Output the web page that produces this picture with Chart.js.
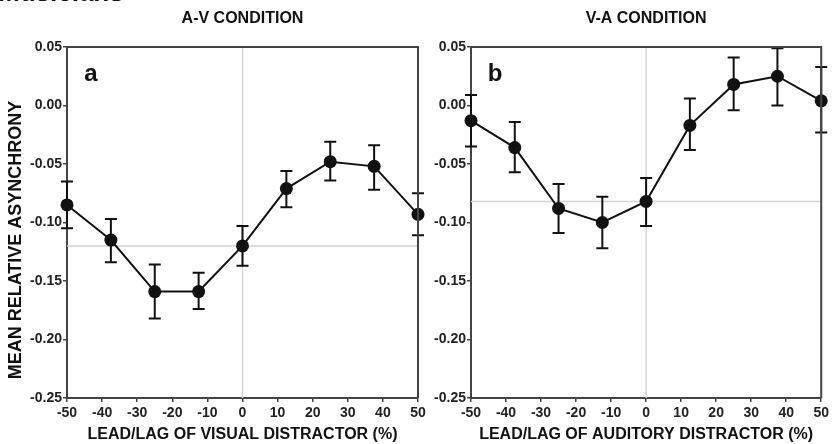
<!DOCTYPE html>
<html>
<head>
<meta charset="utf-8">
<script src="https://cdn.jsdelivr.net/npm/chart.js@4.4.1/dist/chart.umd.min.js"></script>
<style>
  body { margin: 0; background: #fff; }
  #wrap { position: relative; width: 832px; height: 444px; overflow: hidden; }
  canvas { position: absolute; top: 0; }
  #topText { position: absolute; left: -2px; top: -23px; font: bold 26px 'Liberation Sans', Arial, sans-serif; line-height: 30px; color: #111; }
</style>
</head>
<body>
<div id="wrap">
  <div id="topText">Musicians</div>
  <canvas id="av" width="440" height="444" style="left:0"></canvas>
  <canvas id="va" width="412" height="444" style="left:420px"></canvas>
</div>
<script>
// lead/lag of distractor (%)
const xValues = [-50, -37.5, -25, -12.5, 0, 12.5, 25, 37.5, 50];
const xTicks = [-50, -40, -30, -20, -10, 0, 10, 20, 30, 40, 50];
const yTicks = [-0.25, -0.20, -0.15, -0.10, -0.05, 0.00, 0.05];

// A-V condition
const avMean  = [-0.085, -0.115, -0.159, -0.159, -0.120, -0.071, -0.048, -0.052, -0.093];
const avUpper = [-0.065, -0.097, -0.136, -0.143, -0.103, -0.056, -0.031, -0.034, -0.075];
const avLower = [-0.105, -0.134, -0.182, -0.174, -0.137, -0.087, -0.064, -0.072, -0.111];
const avRef = -0.120;

// V-A condition
const vaMean  = [-0.013, -0.036, -0.088, -0.100, -0.082, -0.017, 0.018, 0.025, 0.004];
const vaUpper = [0.009, -0.014, -0.067, -0.078, -0.062, 0.006, 0.041, 0.049, 0.033];
const vaLower = [-0.035, -0.057, -0.109, -0.122, -0.103, -0.038, -0.004, 0.000, -0.023];
const vaRef = -0.082;

Chart.defaults.font.family = "'Liberation Sans', Arial, sans-serif";
Chart.defaults.font.weight = 'bold';
Chart.defaults.color = '#222';

const axisColor = '#444';

// error bars, frame, panel title, letter and y title
const extras = {
  id: 'extras',
  afterDatasetsDraw(chart, args, o) {
    const ctx = chart.ctx;
    const xs = chart.scales.x, ys = chart.scales.y;
    ctx.save();
    ctx.strokeStyle = '#111';
    ctx.lineWidth = 2;
    o.upper.forEach((u, i) => {
      const px = xs.getPixelForValue(xValues[i]);
      const pu = ys.getPixelForValue(u);
      const pl = ys.getPixelForValue(o.lower[i]);
      ctx.beginPath();
      ctx.moveTo(px, pu); ctx.lineTo(px, pl);
      ctx.moveTo(px - 6, pu); ctx.lineTo(px + 6, pu);
      ctx.moveTo(px - 6, pl); ctx.lineTo(px + 6, pl);
      ctx.stroke();
    });
    const a = chart.chartArea;
    ctx.strokeStyle = axisColor;
    ctx.lineWidth = 2;
    ctx.beginPath();
    ctx.moveTo(a.left, a.top); ctx.lineTo(a.right, a.top); ctx.lineTo(a.right, a.bottom);
    ctx.stroke();
    ctx.fillStyle = '#111';
    ctx.textAlign = 'center';
    ctx.textBaseline = 'middle';
    ctx.font = "bold 16px 'Liberation Sans', Arial, sans-serif";
    ctx.fillText(o.title, (a.left + a.right) / 2, 19);
    ctx.font = "bold 24px 'Liberation Sans', Arial, sans-serif";
    ctx.fillText(o.letter, a.left + 24, a.top + 27);
    if (o.yTitle) {
      ctx.translate(16, 240);
      ctx.rotate(-Math.PI / 2);
      ctx.font = "bold 18px 'Liberation Sans', Arial, sans-serif";
      ctx.fillText(o.yTitle, 0, 0);
    }
    ctx.restore();
  }
};

function makeChart(id, mean, upper, lower, ref, opts) {
  return new Chart(document.getElementById(id), {
    type: 'line',
    data: {
      datasets: [
        {
          data: xValues.map((x, i) => ({ x: x, y: mean[i] })),
          borderColor: '#111',
          backgroundColor: '#111',
          borderWidth: 2,
          pointRadius: 6.5,
          pointBorderWidth: 0,
          clip: false,
          order: 0
        },
        {
          data: [{ x: -50, y: ref }, { x: 50, y: ref }],
          borderColor: '#d4d4d4',
          borderWidth: 1.5,
          pointRadius: 0,
          order: 2
        },
        {
          data: [{ x: 0, y: -0.25 }, { x: 0, y: 0.05 }],
          borderColor: '#d4d4d4',
          borderWidth: 1.5,
          pointRadius: 0,
          order: 2
        }
      ]
    },
    options: {
      responsive: false,
      animation: false,
      devicePixelRatio: 1,
      layout: { padding: { top: 47, right: opts.padRight, bottom: 0, left: 0 } },
      plugins: {
        legend: { display: false },
        tooltip: { enabled: false },
        extras: { upper: upper, lower: lower, title: opts.title, letter: opts.letter, yTitle: opts.yTitle }
      },
      scales: {
        x: {
          type: 'linear',
          min: -50, max: 50,
          afterBuildTicks: s => { s.ticks = xTicks.map(v => ({ value: v })); },
          afterFit: s => { s.height = 46; },
          grid: { drawOnChartArea: false, drawTicks: true, tickLength: 4, color: axisColor, lineWidth: 1.5 },
          border: { display: true, color: axisColor, width: 2 },
          ticks: { font: { size: 14, weight: 'bold' }, color: '#222', padding: 3, maxRotation: 0 },
          title: {
            display: true, text: opts.xTitle, color: '#111',
            font: { size: 16, weight: 'bold' }, padding: { top: 2, bottom: 0 }
          }
        },
        y: {
          min: -0.25, max: 0.05,
          afterBuildTicks: s => { s.ticks = yTicks.map(v => ({ value: v })); },
          afterFit: s => { s.width = opts.yWidth; },
          grid: { drawOnChartArea: false, drawTicks: true, tickLength: 4, color: axisColor, lineWidth: 1.5 },
          border: { display: true, color: axisColor, width: 2 },
          ticks: {
            font: { size: 14, weight: 'bold' }, color: '#222', padding: 1,
            callback: v => v.toFixed(2)
          }
        }
      }
    },
    plugins: [extras]
  });
}

makeChart('av', avMean, avUpper, avLower, avRef, {
  title: 'A-V CONDITION', letter: 'a', xTitle: 'LEAD/LAG OF VISUAL DISTRACTOR (%)',
  yTitle: 'MEAN RELATIVE ASYNCHRONY', yWidth: 67, padRight: 22
});
makeChart('va', vaMean, vaUpper, vaLower, vaRef, {
  title: 'V-A CONDITION', letter: 'b', xTitle: 'LEAD/LAG OF AUDITORY DISTRACTOR (%)',
  yTitle: '', yWidth: 51, padRight: 9
});
</script>
</body>
</html>
